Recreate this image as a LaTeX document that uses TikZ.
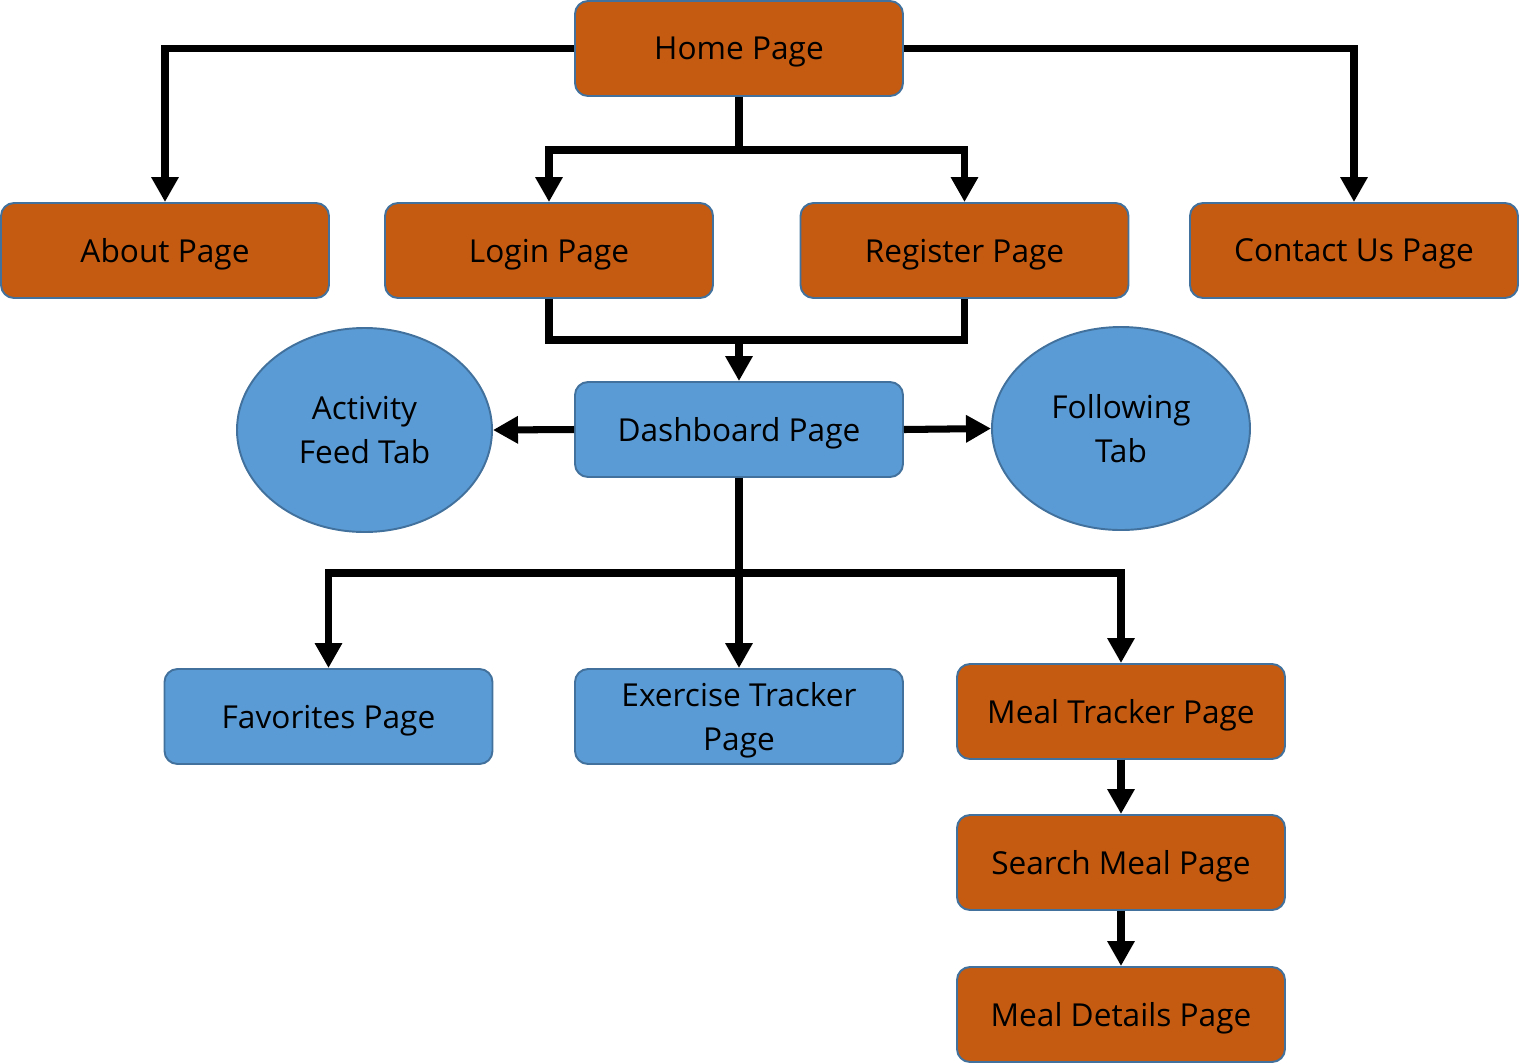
\documentclass[tikz,border=0pt]{standalone}
\usepackage{fontspec}
\setmainfont{Open Sans}
\usetikzlibrary{arrows.meta,positioning,shapes.geometric}

\definecolor{pageorange}{HTML}{C55A11}
\definecolor{pageblue}{HTML}{5B9BD5}
\definecolor{pageedge}{HTML}{41719C}

\begin{document}
\begin{tikzpicture}[
    >={Triangle[width=5.2mm,length=5mm]},
    page/.style={draw=pageedge, line width=1.1pt, rounded corners=2.6mm, align=center,
      minimum width=6.56cm, minimum height=1.9cm, inner sep=2pt, text depth=0pt},
    orangepage/.style={page, fill=pageorange},
    bluepage/.style={page, fill=pageblue},
    tab/.style={ellipse, draw=pageedge, line width=1.1pt, fill=pageblue, align=center, inner sep=0pt},
    link/.style={line width=4pt, ->},
    font=\fontsize{18}{25}\selectfont
  ]
    \useasboundingbox (0,0) rectangle (30.38,-21.26);
    % top row
    \node[orangepage] (home) at (14.78,-0.97) {Home Page};
    \node[orangepage] (about) at (3.30,-5.01) {About Page};
    \node[orangepage] (login) at (10.98,-5.01) {Login Page};
    \node[orangepage] (register) at (19.29,-5.01) {Register Page};
    \node[orangepage] (contact) at (27.08,-5.01) {Contact Us Page};
    % dashboard and tabs
    \node[bluepage] (dash) at (14.78,-8.59) {Dashboard Page};
    \node[tab, minimum width=5.1cm, minimum height=4.08cm] (activity) at (7.29,-8.60) {Activity\\Feed Tab};
    \node[tab, minimum width=5.16cm, minimum height=4.06cm] (following) at (22.42,-8.57) {Following\\Tab};
    % bottom row
    \node[bluepage] (fav) at (6.57,-14.33) {Favorites Page};
    \node[bluepage] (exercise) at (14.78,-14.33) {Exercise Tracker\\Page};
    \node[orangepage] (meal) at (22.42,-14.23) {Meal Tracker Page};
    \node[orangepage] (search) at (22.42,-17.25) {Search Meal Page};
    \node[orangepage] (details) at (22.42,-20.29) {Meal Details Page};

    \coordinate (hsplit) at (14.78,-3.0);
    \coordinate (join) at (14.78,-6.8);
    \coordinate (dsplit) at (14.78,-11.46);

    \draw[link] (home.west) -| (about.north);
    \draw[link] (home.east) -| (contact.north);
    \draw[line width=4pt] (home.south) -- (hsplit);
    \draw[link] (hsplit) -| (login.north);
    \draw[link] (hsplit) -| (register.north);
    \draw[line width=4pt] (login.south) |- (join) -| (register.south);
    \draw[link] (join) -- (dash.north);
    \draw[link] (dash.west) -- (activity.east);
    \draw[link] (dash.east) -- (following.west);
    \draw[line width=4pt] (dash.south) -- (dsplit);
    \draw[link] (dsplit) -| (fav.north);
    \draw[link] (dsplit) -- (exercise.north);
    \draw[link] (dsplit) -| (meal.north);
    \draw[link] (meal) -- (search);
    \draw[link] (search) -- (details);
  \end{tikzpicture}
\end{document}
